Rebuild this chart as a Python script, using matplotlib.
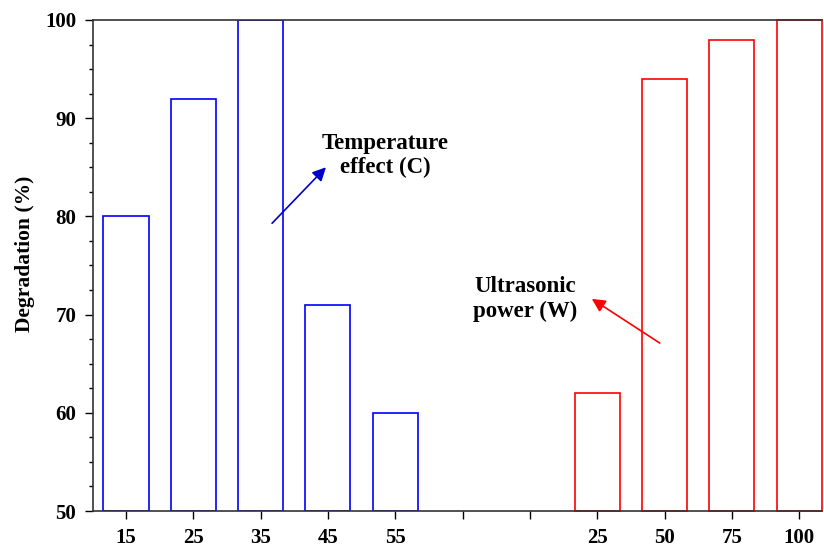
import matplotlib.pyplot as plt
from matplotlib.ticker import MultipleLocator

temp_labels = ["15", "25", "35", "45", "55"]
temp_values = [80, 92, 100, 71, 60]
power_labels = ["25", "50", "75", "100"]
power_values = [62, 94, 98, 100]

plt.rcParams['font.family'] = ['Liberation Serif', 'DejaVu Serif']
plt.rcParams['font.weight'] = 'bold'

fig = plt.figure(figsize=(8.24, 5.49), dpi=100)
ax = fig.add_axes([0.1129, 0.0692, 0.8847, 0.8944])

temp_pos = list(range(len(temp_values)))
power_pos = [7 + i for i in range(len(power_values))]
w = 0.67
ax.bar(temp_pos, [v - 50 for v in temp_values], bottom=50, width=w,
       facecolor='none', edgecolor='#0000ff', linewidth=1.2)
ax.bar(power_pos, [v - 50 for v in power_values], bottom=50, width=w,
       facecolor='none', edgecolor='#ff0000', linewidth=1.2, clip_on=False)

ax.set_xlim(-0.49, 10.34)
ax.set_ylim(50, 100)
ax.set_xticks(range(11))
ax.set_xticklabels(temp_labels + ["", ""] + power_labels)
ax.yaxis.set_major_locator(MultipleLocator(10))
ax.yaxis.set_minor_locator(MultipleLocator(2.5))
ax.tick_params(axis='both', which='major', direction='out', length=6, width=1,
               labelsize=15, pad=6)
ax.tick_params(axis='y', which='minor', direction='out', length=3, width=1)
for lab in ax.get_xticklabels() + ax.get_yticklabels():
    lab.set_fontweight('bold')
ax.spines['right'].set_visible(False)
for s in ['left', 'bottom', 'top']:
    ax.spines[s].set_color('#333333')
    ax.spines[s].set_linewidth(1.2)

ax.set_ylabel("Degradation (%)", fontsize=15.5, fontweight='bold')
ax.yaxis.set_label_coords(-0.08, 0.523)

ax.text(3.85, 86.2, "Temperature\neffect (C)", ha='center', va='center',
        fontsize=16.5, fontweight='bold', linespacing=1.2)
ax.annotate("", xy=(2.97, 85.0), xytext=(2.17, 79.3),
            arrowprops=dict(arrowstyle='-|>', color='#0000cc', lw=1.2,
                            mutation_scale=20, shrinkA=0, shrinkB=0))
ax.text(5.93, 71.6, "Ultrasonic\npower (W)", ha='center', va='center',
        fontsize=16.5, fontweight='bold', linespacing=1.25)
ax.annotate("", xy=(6.92, 71.6), xytext=(7.93, 67.1),
            arrowprops=dict(arrowstyle='-|>', color='#ff0000', lw=1.2,
                            mutation_scale=20, shrinkA=0, shrinkB=0))

fig.savefig("out.png", dpi=100)
